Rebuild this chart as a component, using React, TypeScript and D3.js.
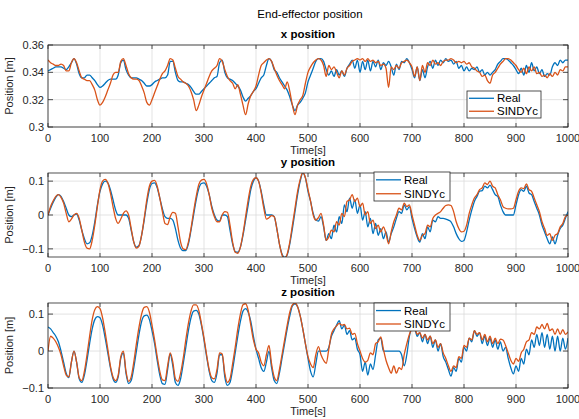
import * as d3 from "d3";

// sample times (s), one reading every 5 s
const TIME = d3.range(0, 1001, 5);
const X_TICKS = [0, 100, 200, 300, 400, 500, 600, 700, 800, 900, 1000];

// x position [m]
const xReal = [
  .341,.342,.343,.344,.344,.344,.343,.342,.344,.347,
  .350,.346,.339,.336,.336,.338,.338,.336,.334,.331,
  .329,.330,.332,.334,.335,.335,.335,.338,.347,.349,
  .342,.338,.336,.336,.336,.335,.334,.332,.330,.330,
  .331,.333,.334,.335,.336,.336,.338,.348,.348,.340,
  .334,.333,.333,.332,.331,.329,.326,.324,.324,.326,
  .328,.330,.332,.334,.336,.337,.347,.349,.340,.336,
  .335,.334,.332,.330,.327,.322,.319,.321,.323,.326,
  .328,.332,.336,.338,.345,.350,.348,.342,.340,.336,
  .333,.330,.327,.322,.316,.312,.316,.318,.321,.325,
  .333,.338,.343,.348,.350,.350,.348,.342,.338,.341,
  .337,.342,.338,.341,.337,.343,.346,.349,.343,.349,
  .340,.348,.342,.349,.341,.348,.344,.349,.342,.347,
  .345,.348,.344,.338,.346,.342,.348,.347,.350,.347,
  .342,.336,.344,.334,.342,.336,.344,.348,.343,.349,
  .345,.349,.347,.350,.348,.349,.346,.348,.343,.345,
  .341,.344,.341,.343,.342,.344,.340,.342,.338,.340,
  .338,.340,.342,.346,.348,.350,.350,.349,.347,.345,
  .342,.339,.343,.338,.345,.340,.347,.341,.344,.339,
  .342,.337,.339,.338,.344,.347,.345,.349,.347,.349,
  .349,
];
const xSindy = [
  .349,.347,.346,.345,.345,.346,.345,.341,.341,.347,
  .350,.347,.341,.336,.335,.334,.334,.331,.327,.320,
  .316,.318,.322,.327,.332,.338,.340,.340,.348,.350,
  .345,.339,.336,.335,.335,.334,.330,.325,.318,.316,
  .320,.325,.330,.335,.339,.341,.345,.350,.349,.343,
  .337,.335,.333,.332,.330,.326,.320,.312,.316,.322,
  .327,.332,.337,.341,.343,.345,.350,.348,.342,.337,
  .334,.332,.328,.331,.324,.316,.309,.317,.323,.326,
  .330,.338,.345,.347,.349,.350,.348,.343,.338,.334,
  .331,.328,.333,.326,.316,.309,.316,.320,.323,.332,
  .340,.344,.347,.349,.350,.349,.345,.337,.345,.342,
  .344,.340,.336,.341,.338,.343,.345,.348,.349,.350,
  .349,.350,.348,.350,.348,.349,.347,.348,.345,.346,
  .343,.329,.344,.342,.345,.343,.347,.348,.349,.347,
  .344,.337,.344,.334,.345,.340,.347,.345,.349,.346,
  .347,.345,.348,.349,.349,.350,.349,.347,.348,.347,
  .348,.346,.347,.344,.343,.341,.340,.337,.338,.334,
  .332,.338,.340,.343,.346,.348,.350,.350,.349,.347,
  .345,.342,.340,.343,.339,.344,.341,.344,.339,.340,
  .337,.338,.336,.339,.337,.340,.338,.342,.341,.344,
  .344,
];

// y position [m]
const yReal = [
  0.000,0.020,0.038,0.052,0.060,0.055,0.040,0.020,0.000,-0.005,
  0.000,0.003,-0.015,-0.045,-0.070,-0.085,-0.082,-0.060,-0.020,0.030,
  0.070,0.092,0.100,0.095,0.075,0.045,0.015,0.000,0.000,0.000,
  0.000,-0.010,-0.045,-0.080,-0.095,-0.090,-0.060,-0.015,0.035,0.075,
  0.093,0.095,0.080,0.050,0.018,-0.005,-0.010,-0.010,-0.015,-0.040,
  -0.075,-0.098,-0.105,-0.105,-0.085,-0.045,0.000,0.045,0.078,0.093,
  0.095,0.085,0.060,0.025,0.000,-0.015,-0.018,0.000,0.000,-0.005,
  -0.045,-0.085,-0.108,-0.110,-0.095,-0.060,-0.015,0.030,0.075,0.100,
  0.110,0.100,0.070,0.030,0.000,0.000,0.000,-0.005,-0.040,-0.085,
  -0.115,-0.125,-0.118,-0.085,-0.040,0.010,0.060,0.100,0.124,0.110,
  0.070,0.040,0.005,-0.015,-0.018,-0.005,-0.035,-0.075,-0.055,-0.070,
  -0.030,-0.050,-0.005,-0.025,0.030,0.010,0.050,0.020,0.045,0.005,
  0.030,-0.015,0.010,-0.035,-0.010,-0.055,-0.025,-0.060,-0.040,-0.070,
  -0.050,-0.080,-0.055,-0.035,-0.010,0.010,0.005,0.030,0.015,0.025,
  -0.010,-0.040,-0.065,-0.080,-0.055,-0.070,-0.035,-0.050,-0.015,-0.020,
  -0.005,-0.010,-0.010,-0.012,-0.015,-0.020,-0.035,-0.055,-0.070,-0.078,
  -0.075,-0.050,-0.015,0.015,0.040,0.055,0.070,0.072,0.085,0.080,
  0.088,0.075,0.060,0.055,0.030,0.010,0.000,0.000,0.000,0.000,
  0.030,0.060,0.075,0.070,0.085,0.065,0.060,0.040,0.020,0.000,
  -0.030,-0.050,-0.070,-0.085,-0.065,-0.085,-0.060,-0.040,-0.030,-0.010,
  0.010,
];
const ySindy = [
  0.000,0.025,0.042,0.055,0.060,0.052,0.035,0.005,-0.020,-0.012,
  0.000,0.005,-0.010,-0.045,-0.080,-0.098,-0.100,-0.075,-0.030,0.025,
  0.075,0.100,0.105,0.095,0.065,0.025,-0.010,-0.025,-0.012,0.005,
  0.012,0.000,-0.040,-0.080,-0.098,-0.092,-0.060,-0.010,0.045,0.085,
  0.100,0.102,0.085,0.050,0.010,-0.025,-0.028,-0.005,0.008,0.005,
  -0.035,-0.080,-0.100,-0.102,-0.080,-0.040,0.010,0.055,0.090,0.103,
  0.105,0.092,0.060,0.020,-0.005,-0.020,-0.020,0.000,0.010,0.008,
  -0.030,-0.080,-0.110,-0.113,-0.095,-0.055,-0.005,0.045,0.085,0.105,
  0.110,0.100,0.065,0.020,-0.012,-0.008,-0.002,-0.005,-0.040,-0.085,
  -0.118,-0.128,-0.115,-0.080,-0.030,0.020,0.070,0.105,0.126,0.110,
  0.075,0.040,0.000,-0.015,-0.008,0.005,-0.030,-0.075,-0.065,-0.045,
  -0.050,-0.020,-0.030,0.005,-0.005,0.040,0.045,0.060,0.040,0.050,
  0.025,0.035,0.000,0.010,-0.025,-0.015,-0.040,-0.030,-0.050,-0.035,
  -0.055,-0.085,-0.050,-0.020,0.000,0.020,0.015,0.035,0.025,0.030,
  0.000,-0.030,-0.060,-0.075,-0.060,-0.055,-0.030,-0.035,-0.010,0.000,
  0.005,0.010,0.020,0.028,0.030,0.028,0.010,-0.020,-0.040,-0.050,
  -0.048,-0.030,0.005,0.030,0.050,0.060,0.075,0.080,0.095,0.090,
  0.100,0.085,0.080,0.060,0.045,0.025,0.020,0.018,0.018,0.020,
  0.045,0.070,0.080,0.078,0.092,0.075,0.070,0.050,0.030,0.010,
  -0.020,-0.040,-0.060,-0.055,-0.075,-0.060,-0.055,-0.035,-0.025,-0.005,
  0.000,
];

// z position [m]
const zReal = [
  0.065,0.060,0.050,0.040,0.025,0.000,-0.030,-0.060,-0.072,-0.030,
  0.000,-0.030,-0.075,-0.085,-0.065,-0.025,0.020,0.060,0.085,0.093,
  0.090,0.070,0.035,-0.005,-0.045,-0.075,-0.085,-0.070,-0.020,-0.005,
  -0.060,-0.088,-0.080,-0.045,0.000,0.045,0.080,0.095,0.097,0.085,
  0.055,0.020,-0.025,-0.065,-0.088,-0.090,-0.050,-0.008,-0.040,-0.085,
  -0.093,-0.075,-0.035,0.010,0.055,0.090,0.108,0.110,0.100,0.070,
  0.030,-0.015,-0.055,-0.080,-0.085,-0.060,-0.010,-0.010,-0.070,-0.093,
  -0.085,-0.050,-0.005,0.040,0.080,0.108,0.115,0.105,0.080,0.040,
  0.005,-0.020,-0.045,-0.055,-0.030,0.000,-0.045,-0.080,-0.088,-0.060,
  -0.020,0.020,0.060,0.095,0.122,0.128,0.120,0.095,0.060,0.020,
  -0.020,-0.055,-0.070,-0.035,0.000,0.000,0.000,0.000,0.010,0.040,
  0.055,0.070,0.082,0.060,0.070,0.045,0.055,0.030,0.035,0.005,
  -0.010,-0.055,-0.030,-0.065,-0.035,-0.050,-0.010,0.030,0.035,0.000,
  0.000,0.000,0.000,0.000,0.000,0.000,-0.010,-0.040,-0.010,0.040,
  0.060,0.060,0.040,0.050,0.025,0.045,0.020,0.040,0.010,0.030,
  0.000,0.020,-0.015,-0.030,-0.050,-0.068,-0.045,-0.055,-0.020,-0.030,
  0.010,0.000,0.035,0.025,0.055,0.040,0.050,0.020,0.040,0.015,
  0.035,0.010,0.030,0.005,0.025,0.000,0.010,-0.020,-0.045,-0.062,
  -0.040,-0.055,-0.020,-0.035,0.005,-0.010,0.030,0.010,0.045,0.015,
  0.050,0.010,0.045,0.005,0.040,0.000,0.040,0.000,0.035,0.005,
  0.035,
];
const zSindy = [
  0.000,0.040,0.035,0.025,0.010,-0.010,-0.040,-0.065,-0.070,-0.030,
  0.000,-0.030,-0.072,-0.080,-0.055,-0.010,0.040,0.085,0.112,0.120,
  0.115,0.090,0.050,0.005,-0.040,-0.070,-0.080,-0.065,-0.015,0.000,
  -0.055,-0.082,-0.070,-0.030,0.020,0.065,0.100,0.118,0.120,0.105,
  0.070,0.030,-0.015,-0.055,-0.078,-0.080,-0.040,-0.005,-0.030,-0.075,
  -0.082,-0.060,-0.020,0.030,0.075,0.108,0.125,0.125,0.110,0.075,
  0.035,-0.010,-0.050,-0.072,-0.075,-0.050,-0.005,-0.008,-0.060,-0.085,
  -0.075,-0.035,0.010,0.060,0.100,0.125,0.128,0.110,0.070,0.030,
  0.005,-0.005,-0.030,-0.040,-0.010,0.015,-0.035,-0.070,-0.080,-0.050,
  -0.010,0.030,0.070,0.105,0.125,0.130,0.120,0.095,0.060,0.020,
  -0.015,-0.035,-0.045,-0.010,0.012,-0.010,-0.025,-0.033,0.005,0.045,
  0.060,0.068,0.075,0.070,0.072,0.060,0.062,0.045,0.048,0.020,
  0.000,-0.020,-0.030,-0.025,-0.005,-0.010,0.020,0.025,0.038,0.005,
  -0.025,-0.045,-0.060,-0.040,-0.060,-0.045,-0.050,-0.010,0.020,0.045,
  0.060,0.062,0.045,0.050,0.035,0.045,0.030,0.040,0.020,0.030,
  0.010,0.020,-0.005,-0.020,-0.040,-0.055,-0.040,-0.045,-0.015,-0.020,
  0.015,0.010,0.035,0.030,0.055,0.045,0.050,0.030,0.045,0.025,
  0.040,0.020,0.035,0.020,0.032,0.030,0.015,-0.005,-0.025,-0.035,
  -0.020,-0.028,-0.005,0.005,0.025,0.030,0.050,0.045,0.065,0.060,
  0.072,0.060,0.075,0.055,0.060,0.045,0.060,0.045,0.058,0.045,
  0.052,
];

const X_POS_TICKS = [0.3, 0.32, 0.34, 0.36];
const YZ_TICKS = [-0.1, 0, 0.1];
const SERIES_NAMES = ["Real", "SINDYc"];

const BLUE = "#0072BD";
const ORANGE = "#D95319";
const FONT = "'Liberation Sans', Arial, Helvetica, sans-serif";

const LEFT = 48;
const RIGHT = 568;

const panels = [
  { id: "px", title: "x position", top: 45, bottom: 127, domain: [0.3, 0.36], ticks: X_POS_TICKS, real: xReal, sindy: xSindy, legend: { x: 467, y: 91, w: 74, h: 27 } },
  { id: "py", title: "y position", top: 173, bottom: 257, domain: [-0.124, 0.124], ticks: YZ_TICKS, real: yReal, sindy: ySindy, legend: { x: 374, y: 172, w: 76, h: 29 } },
  { id: "pz", title: "z position", top: 303, bottom: 388, domain: [-0.1, 0.13], ticks: YZ_TICKS, real: zReal, sindy: zSindy, legend: { x: 374, y: 303, w: 76, h: 28 } },
];

function Panel({ p }) {
  const x = d3.scaleLinear().domain([0, 1000]).range([LEFT, RIGHT]);
  const y = d3.scaleLinear().domain(p.domain).range([p.bottom, p.top]);
  const line = d3.line<number>()
    .x((_, i) => x(TIME[i]))
    .y((d) => y(d))
    .curve(d3.curveMonotoneX);
  const midY = (p.top + p.bottom) / 2;
  const lg = p.legend;

  return (
    <g>
      <clipPath id={`clip-${p.id}`}>
        <rect x={LEFT} y={p.top} width={RIGHT - LEFT} height={p.bottom - p.top} />
      </clipPath>
      <rect x={LEFT} y={p.top} width={RIGHT - LEFT} height={p.bottom - p.top} fill="#fff" />
      {/* grid */}
      {X_TICKS.map((t) => (
        <line key={"gx" + t} x1={x(t)} x2={x(t)} y1={p.top} y2={p.bottom} stroke="#dcdcdc" strokeWidth={0.8} />
      ))}
      {p.ticks.map((t) => (
        <line key={"gy" + t} x1={LEFT} x2={RIGHT} y1={y(t)} y2={y(t)} stroke="#dcdcdc" strokeWidth={0.8} />
      ))}
      {/* series */}
      <g clipPath={`url(#clip-${p.id})`}>
        <path d={line(p.real) || ""} fill="none" stroke={BLUE} strokeWidth={1.3} strokeLinejoin="round" />
        <path d={line(p.sindy) || ""} fill="none" stroke={ORANGE} strokeWidth={1.3} strokeLinejoin="round" />
      </g>
      {/* box and ticks */}
      <rect x={LEFT} y={p.top} width={RIGHT - LEFT} height={p.bottom - p.top} fill="none" stroke="#262626" strokeWidth={0.8} />
      {X_TICKS.map((t) => (
        <g key={"tx" + t}>
          <line x1={x(t)} x2={x(t)} y1={p.bottom} y2={p.bottom - 4} stroke="#262626" strokeWidth={0.8} />
          <line x1={x(t)} x2={x(t)} y1={p.top} y2={p.top + 4} stroke="#262626" strokeWidth={0.8} />
          <text x={x(t)} y={p.bottom + 15} textAnchor="middle" fontSize={11} fill="#262626" fontFamily={FONT}>{t}</text>
        </g>
      ))}
      {p.ticks.map((t) => (
        <g key={"ty" + t}>
          <line x1={LEFT} x2={LEFT + 5} y1={y(t)} y2={y(t)} stroke="#262626" strokeWidth={0.8} />
          <line x1={RIGHT} x2={RIGHT - 5} y1={y(t)} y2={y(t)} stroke="#262626" strokeWidth={0.8} />
          <text x={LEFT - 4} y={y(t) + 4} textAnchor="end" fontSize={11} fill="#262626" fontFamily={FONT}>{d3.format("~g")(t)}</text>
        </g>
      ))}
      <text x={(LEFT + RIGHT) / 2} y={p.bottom + 27} textAnchor="middle" fontSize={11} fill="#262626" fontFamily={FONT}>Time[s]</text>
      <text transform={`translate(13,${midY}) rotate(-90)`} textAnchor="middle" fontSize={11} fill="#262626" fontFamily={FONT}>Position [m]</text>
      <text x={(LEFT + RIGHT) / 2} y={p.top - 7} textAnchor="middle" fontSize={11.5} fontWeight="bold" fill="#000" fontFamily={FONT}>{p.title}</text>
      {/* legend */}
      <g>
        <rect x={lg.x} y={lg.y} width={lg.w} height={lg.h} fill="#fff" stroke="#262626" strokeWidth={0.8} />
        {SERIES_NAMES.map((name, i) => {
          const ly = lg.y + lg.h * (i === 0 ? 0.27 : 0.75);
          return (
            <g key={name}>
              <line x1={lg.x + 2} x2={lg.x + 27} y1={ly} y2={ly} stroke={i === 0 ? BLUE : ORANGE} strokeWidth={1.3} />
              <text x={lg.x + 30} y={ly + 4} fontSize={11.5} fill="#000" fontFamily={FONT}>{name}</text>
            </g>
          );
        })}
      </g>
    </g>
  );
}

const App = () => {
  return (
    <svg width={579} height={419} style={{ position: "absolute", left: 0, top: 0, background: "#fff" }}>
      <rect width={579} height={419} fill="#fff" />
      <text x={310} y={18} textAnchor="middle" fontSize={11.5} fill="#000" fontFamily={FONT}>End-effector position</text>
      {panels.map((p) => (
        <Panel key={p.id} p={p} />
      ))}
    </svg>
  );
};

export default App;
